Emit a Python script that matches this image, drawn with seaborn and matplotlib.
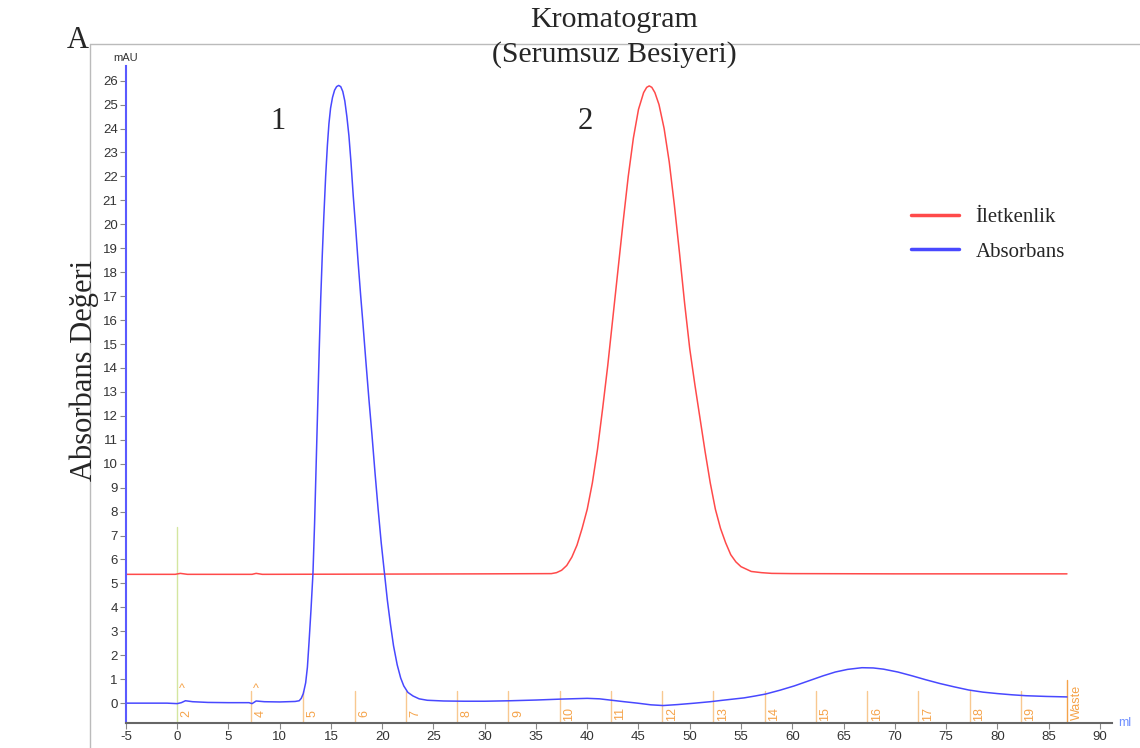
import numpy as np
import pandas as pd
import matplotlib
matplotlib.use("Agg")
import matplotlib.pyplot as plt
from matplotlib.lines import Line2D
from matplotlib.ticker import MultipleLocator
import seaborn as sns

# Absorbans (mAU) okumalari
abs_ml = [-5, -1, 0, 0.4, 0.8, 1.5, 3, 5, 7, 7.3, 7.7, 8.5, 10, 11.5,
          11.9, 12.1, 12.3, 12.53, 12.7, 12.86, 13.05, 13.24, 13.4, 13.55, 13.7,
          13.85, 14.0, 14.15, 14.3, 14.48, 14.65, 14.8, 14.96, 15.15, 15.35,
          15.55, 15.75, 15.95, 16.15, 16.35, 16.55, 16.75, 16.95, 17.17, 17.4,
          17.65, 17.9, 18.11, 18.4, 18.7, 19.0, 19.3, 19.6, 19.9, 20.25, 20.5,
          20.8, 21.1, 21.46, 21.8, 22.1, 22.5, 23.0, 23.6, 24.4, 26, 28, 30,
          32.5, 35, 37.5, 40, 41.2, 42.4, 43.6, 44.9, 46.2, 47.4, 48.8, 50.5,
          52, 53.2, 55.3, 56.4, 57.4, 58.8, 60.2, 61.6, 63.0, 64.2, 65.4, 66.8,
          67.9, 68.9, 70.3, 71.7, 73.0, 74.4, 75.8, 77.2, 78.6, 80.0, 81.4,
          82.8, 84.8, 86.8]
abs_mau = [0.0, 0.0, -0.02, 0.02, 0.1, 0.06, 0.03, 0.02, 0.02, -0.02, 0.09, 0.06, 0.05, 0.07,
           0.1, 0.2, 0.4, 0.85, 1.5, 2.55, 3.9, 5.4, 7.5, 9.9, 12.3,
           14.7, 16.9, 18.7, 20.3, 22.0, 23.3, 24.2, 24.85, 25.3, 25.6,
           25.75, 25.8, 25.75, 25.55, 25.15, 24.5, 23.7, 22.6, 21.2, 19.9,
           18.4, 17.0, 15.9, 14.3, 12.7, 11.2, 9.6, 8.1, 6.7, 5.3, 4.3,
           3.3, 2.4, 1.6, 1.05, 0.72, 0.45, 0.3, 0.18, 0.12, 0.09, 0.08, 0.08,
           0.1, 0.13, 0.17, 0.2, 0.18, 0.12, 0.06, 0.0, -0.07, -0.1, -0.06, 0.0,
           0.06, 0.12, 0.22, 0.3, 0.38, 0.54, 0.72, 0.93, 1.14, 1.3, 1.41, 1.48,
           1.47, 1.42, 1.3, 1.14, 0.98, 0.82, 0.68, 0.55, 0.46, 0.40, 0.35,
           0.31, 0.28, 0.26]

# Iletkenlik okumalari
ilet_ml = [-5, -0.2, 0.3, 1, 7.3, 7.7, 8.3, 20, 30, 36.5, 37.0, 37.5, 38.0, 38.5,
           39.0, 39.5, 40.0, 40.5, 41.0, 41.5, 42.0, 42.5, 43.0, 43.5, 44.0,
           44.5, 45.0, 45.5, 45.8, 46.05, 46.3, 46.6, 47.0, 47.5, 48.0, 48.5,
           49.0, 49.5, 50.0, 50.5, 51.0, 51.5, 52.0, 52.5, 53.0, 53.5, 54.0,
           54.5, 55.0, 56.0, 57.0, 58.0, 60, 70, 86.8]
ilet_val = [5.38, 5.38, 5.42, 5.38, 5.38, 5.42, 5.38, 5.39, 5.4, 5.41, 5.45, 5.55, 5.75, 6.1,
            6.6, 7.3, 8.1, 9.2, 10.6, 12.3, 14.1, 16.1, 18.1, 20.1, 22.0,
            23.6, 24.8, 25.5, 25.72, 25.78, 25.72, 25.5, 25.0, 24.0, 22.6, 20.8,
            18.8, 16.7, 14.8, 13.3, 11.9, 10.5, 9.2, 8.1, 7.3, 6.7, 6.2,
            5.9, 5.7, 5.5, 5.45, 5.42, 5.41, 5.4, 5.4]

# Fraksiyon isaretleri
frak_ml = [7.2, 12.3, 17.3, 22.3, 27.3, 32.3, 37.3, 42.3, 47.3, 52.3,
           57.3, 62.3, 67.3, 72.3, 77.3, 82.3]
frak_etiket = ["4", "5", "6", "7", "8", "9", "10", "11", "12", "13",
               "14", "15", "16", "17", "18", "19"]

df = pd.concat([
    pd.DataFrame({"ml": ilet_ml, "deger": ilet_val, "seri": "İletkenlik"}),
    pd.DataFrame({"ml": abs_ml, "deger": abs_mau, "seri": "Absorbans"}),
])

sns.set_style("white")
serif = "Liberation Serif"
sans = "Liberation Sans"
plt.rcParams["font.family"] = [sans, "DejaVu Sans"]
plt.rcParams["axes.unicode_minus"] = False

fig = plt.figure(figsize=(11.4, 7.48), dpi=100)
ax = fig.add_axes([0.1105, 0.0334, 0.865, 0.878])

sns.lineplot(data=df, x="ml", y="deger", hue="seri", sort=False, estimator=None,
             palette={"İletkenlik": "#ff4a4a", "Absorbans": "#4848ff"},
             linewidth=1.1, ax=ax, legend=False)

turuncu = "#f5a34a"
ymin = -0.83
# enjeksiyon cizgisi
ax.plot([0, 0], [ymin, 7.35], color="#d4e6a0", lw=1.0, zorder=1)
ax.text(0.35, -0.45, "2", color=turuncu, fontsize=9, rotation=90, ha="left", va="center")
for x, lab in zip(frak_ml, frak_etiket):
    ax.plot([x, x], [ymin, 0.49], color="#f8c890", lw=1.0, zorder=1)
    ax.text(x + 0.35, -0.45, lab, color=turuncu, fontsize=9, rotation=90,
            ha="left", va="center")
ax.plot([86.8, 86.8], [ymin, 0.95], color=turuncu, lw=1.0, zorder=1)
ax.text(87.15, 0.05, "Waste", color=turuncu, fontsize=9, rotation=90,
        ha="left", va="center")
for x in [0.45, 7.65]:
    ax.text(x, 0.6, "^", color=turuncu, fontsize=9, ha="center", va="center")

ax.set_xlim(-5, 91.2)
ax.set_ylim(ymin, 26.6)
ax.xaxis.set_major_locator(MultipleLocator(5))
ax.xaxis.set_minor_locator(MultipleLocator(1))
ax.yaxis.set_major_locator(MultipleLocator(1))
ax.yaxis.set_minor_locator(MultipleLocator(0.2))
ax.tick_params(axis="both", which="major", direction="out", length=4, width=0.8,
               color="#888888", labelsize=9.5, labelcolor="#333333", pad=2)
ax.tick_params(axis="both", which="minor", direction="out", length=2, width=0.6,
               color="#aaaaaa")
ax.tick_params(left=True, bottom=True)
ax.set_xlabel("")
ax.set_ylabel("")
for s in ["top", "right"]:
    ax.spines[s].set_visible(False)
ax.spines["left"].set_color("#5a5aff")
ax.spines["left"].set_linewidth(1.5)
ax.spines["bottom"].set_color("#666666")
ax.spines["bottom"].set_linewidth(1.5)

ax.text(-5, 26.95, "mAU", fontsize=8, color="#333333", ha="center", va="center",
        clip_on=False)
ax.text(92.4, ymin, "ml", fontsize=9, color="#7090ff", ha="center", va="center",
        clip_on=False)

ax.text(9.85, 24.3, "1", family=serif, fontsize=22, ha="center", va="center")
ax.text(39.8, 24.3, "2", family=serif, fontsize=22, ha="center", va="center")

handles = [Line2D([], [], color="#ff4a4a", lw=2.5), Line2D([], [], color="#4848ff", lw=2.5)]
ax.legend(handles, ["İletkenlik", "Absorbans"], loc="upper left",
          bbox_to_anchor=(0.777, 0.813), frameon=False,
          prop={"family": serif, "size": 15}, handlelength=2.3, labelspacing=0.7)

# cerceve cizgileri
fig.add_artist(Line2D([0.079, 1.0], [0.941, 0.941], color="#bbbbbb", lw=1.0))
fig.add_artist(Line2D([0.079, 0.079], [0.0, 0.941], color="#bbbbbb", lw=1.0))

fig.text(0.068, 0.946, "A", family=serif, fontsize=22, ha="center", va="center")
fig.text(0.539, 0.973, "Kromatogram", family=serif, fontsize=21.5,
         ha="center", va="center")
fig.text(0.539, 0.927, "(Serumsuz Besiyeri)", family=serif, fontsize=21.5,
         ha="center", va="center")
fig.text(0.074, 0.505, "Absorbans Değeri", family=serif, fontsize=22, rotation=90,
         ha="center", va="center")

fig.savefig("out.png", dpi=100)
